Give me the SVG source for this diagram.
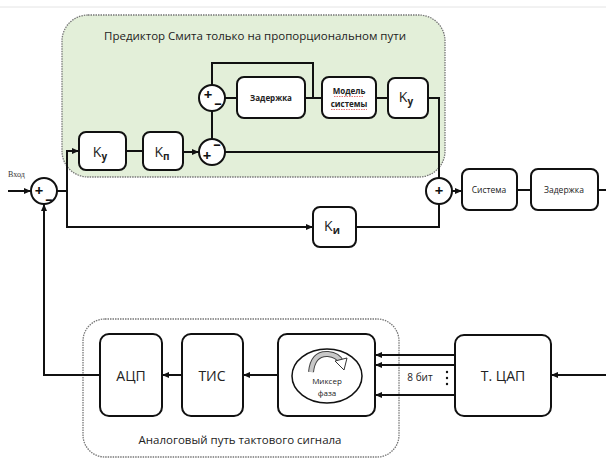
<svg xmlns="http://www.w3.org/2000/svg" width="606" height="459" viewBox="0 0 606 459">
<defs>
<marker id="ar" markerWidth="7" markerHeight="6" refX="7" refY="3" orient="auto" markerUnits="userSpaceOnUse">
<path d="M0,0 L7,3 L0,6 z" fill="#111"/>
</marker>
<style>
.box{fill:#fff;stroke:#111;stroke-width:2}
.sum{fill:#fff;stroke:#111;stroke-width:2}
.ln{fill:none;stroke:#111;stroke-width:2}
.t{font-family:"Open Sans","Liberation Sans",sans-serif;fill:#222;text-anchor:middle}
.s{font-family:"Open Sans","Liberation Sans",sans-serif;fill:#111;font-weight:bold;font-size:15px;text-anchor:middle}
.grp{stroke:#777;stroke-width:1.3;stroke-dasharray:1.5 1}
</style>
</defs>
<rect width="606" height="459" fill="#fff"/>
<line x1="0" y1="7" x2="606" y2="7" stroke="#e4e4e4" stroke-width="1"/>

<g id="smith-group">
<rect x="62" y="15" width="383" height="162" rx="26" fill="#e3efd9" class="grp"/>
<text class="t" x="255" y="40" font-size="11.5">Предиктор Смита только на пропорциональном пути</text>
</g>
<g id="analog-group">
<rect x="83" y="319" width="316" height="138" rx="22" fill="none" class="grp"/>
<text class="t" x="240" y="444" font-size="11.5">Аналоговый путь тактового сигнала</text>
</g>

<g id="connectors">
<polyline class="ln" points="8,191 31,191" marker-end="url(#ar)"/>
<polyline class="ln" points="57,191 67,191 67,151 79,151" marker-end="url(#ar)"/>
<polyline class="ln" points="67,191 67,227 313,227" marker-end="url(#ar)"/>
<polyline class="ln" points="100,375 44,375 44,204" marker-end="url(#ar)"/>
<polyline class="ln" points="126,151 143,151"/>
<polyline class="ln" points="183,152 199,152" marker-end="url(#ar)"/>
<polyline class="ln" points="225,152 439,152"/>
<polyline class="ln" points="212,139 212,111"/>
<polyline class="ln" points="225,98 237,98"/>
<polyline class="ln" points="305,98 322,98"/>
<polyline class="ln" points="313,98 313,63 212,63 212,85"/>
<polyline class="ln" points="376,98 388,98"/>
<polyline class="ln" points="428,98 439,98 439,178"/>
<polyline class="ln" points="356,227 439,227 439,204"/>
<polyline class="ln" points="452,191 462,191" marker-end="url(#ar)"/>
<polyline class="ln" points="517,190 531,190"/>
<polyline class="ln" points="598,190 606,190"/>
<polyline class="ln" points="606,375 551,375" marker-end="url(#ar)"/>
<polyline class="ln" points="455,355 375,355" marker-end="url(#ar)"/>
<polyline class="ln" points="455,365 375,365" marker-end="url(#ar)"/>
<polyline class="ln" points="455,395 375,395" marker-end="url(#ar)"/>
<polyline class="ln" points="278,375 243,375" marker-end="url(#ar)"/>
<polyline class="ln" points="182,375 162,375" marker-end="url(#ar)"/>
</g>

<g id="input-label"><text x="8" y="177" font-family="Liberation Serif,serif" font-size="8" fill="#333">Вход</text></g>

<g id="sum-in">
<circle class="sum" cx="44" cy="191" r="13"/>
<text class="s" x="39" y="196">+</text>
<text class="s" x="49" y="204">–</text>
</g>
<g id="ky1">
<rect class="box" x="79" y="132" width="47" height="38" rx="7"/>
<text class="t" x="100" y="157" font-size="14">K<tspan font-size="10" font-weight="bold" dy="3">у</tspan></text>
</g>
<g id="kp">
<rect class="box" x="143" y="132" width="40" height="38" rx="7"/>
<text class="t" x="162" y="157" font-size="14">K<tspan font-size="10" font-weight="bold" dy="3">п</tspan></text>
</g>
<g id="sum-low">
<circle class="sum" cx="212" cy="152" r="13"/>
<text class="s" x="207" y="161">+</text>
<text class="s" x="217" y="149">–</text>
</g>
<g id="sum-up">
<circle class="sum" cx="212" cy="98" r="13"/>
<text class="s" x="208" y="100">+</text>
<text class="s" x="218" y="108">–</text>
</g>
<g id="delay-model">
<rect class="box" x="237" y="77" width="68" height="41" rx="7"/>
<text class="t" x="271" y="101" font-size="8" font-weight="bold">Задержка</text>
</g>
<g id="model">
<rect class="box" x="322" y="77" width="54" height="41" rx="7"/>
<text class="t" x="349" y="94" font-size="8" font-weight="bold">Модель</text>
<text class="t" x="349" y="107" font-size="8" font-weight="bold">системы</text>
<path d="M334,96.5 L364,96.5 M331,109.5 L367,109.5" stroke="#e05050" stroke-width="0.8" stroke-dasharray="1.5 1" fill="none"/>
</g>
<g id="ky2">
<rect class="box" x="388" y="78" width="40" height="40" rx="7"/>
<text class="t" x="406" y="102" font-size="14">K<tspan font-size="10" font-weight="bold" dy="3">у</tspan></text>
</g>
<g id="ki">
<rect class="box" x="313" y="207" width="43" height="40" rx="7"/>
<text class="t" x="332" y="231" font-size="14">K<tspan font-size="10" font-weight="bold" dy="3">и</tspan></text>
</g>
<g id="sum-out">
<circle class="sum" cx="439" cy="191" r="13"/>
<text class="s" x="439" y="196">+</text>
</g>
<g id="system">
<rect class="box" x="462" y="169" width="55" height="41" rx="7"/>
<text class="t" x="489" y="193" font-size="8.5">Система</text>
</g>
<g id="delay">
<rect class="box" x="531" y="169" width="67" height="41" rx="7"/>
<text class="t" x="564" y="193" font-size="8.5">Задержка</text>
</g>

<g id="adc">
<rect class="box" x="100" y="334" width="62" height="82" rx="9"/>
<text class="t" x="131" y="381" font-size="14">АЦП</text>
</g>
<g id="tis">
<rect class="box" x="182" y="334" width="61" height="82" rx="9"/>
<text class="t" x="212" y="381" font-size="14">ТИС</text>
</g>
<g id="mixer">
<rect class="box" x="278" y="334" width="97" height="82" rx="9"/>
<ellipse cx="327" cy="376" rx="35" ry="27" fill="#fff" stroke="#111" stroke-width="1.5"/>
<path d="M311,372 Q313,353 328,354 Q338,355 341,362" fill="none" stroke="#444" stroke-width="6"/>
<path d="M311,372 Q313,353 328,354 Q338,355 341,362" fill="none" stroke="#c8c8c8" stroke-width="4"/>
<polygon points="335,361 347,358 344,370" fill="#fff" stroke="#333" stroke-width="1"/>
<text class="t" x="327" y="384" font-size="8">Миксер</text>
<text class="t" x="327" y="396" font-size="8">фаза</text>
</g>
<g id="bits">
<text class="t" x="420" y="381" font-size="10">8 бит</text>
<circle cx="447" cy="372" r="1.2" fill="#111"/>
<circle cx="447" cy="378" r="1.2" fill="#111"/>
<circle cx="447" cy="384" r="1.2" fill="#111"/>
</g>
<g id="tdac">
<rect class="box" x="455" y="335" width="96" height="81" rx="9"/>
<text class="t" x="503" y="381" font-size="14">Т. ЦАП</text>
</g>
</svg>
